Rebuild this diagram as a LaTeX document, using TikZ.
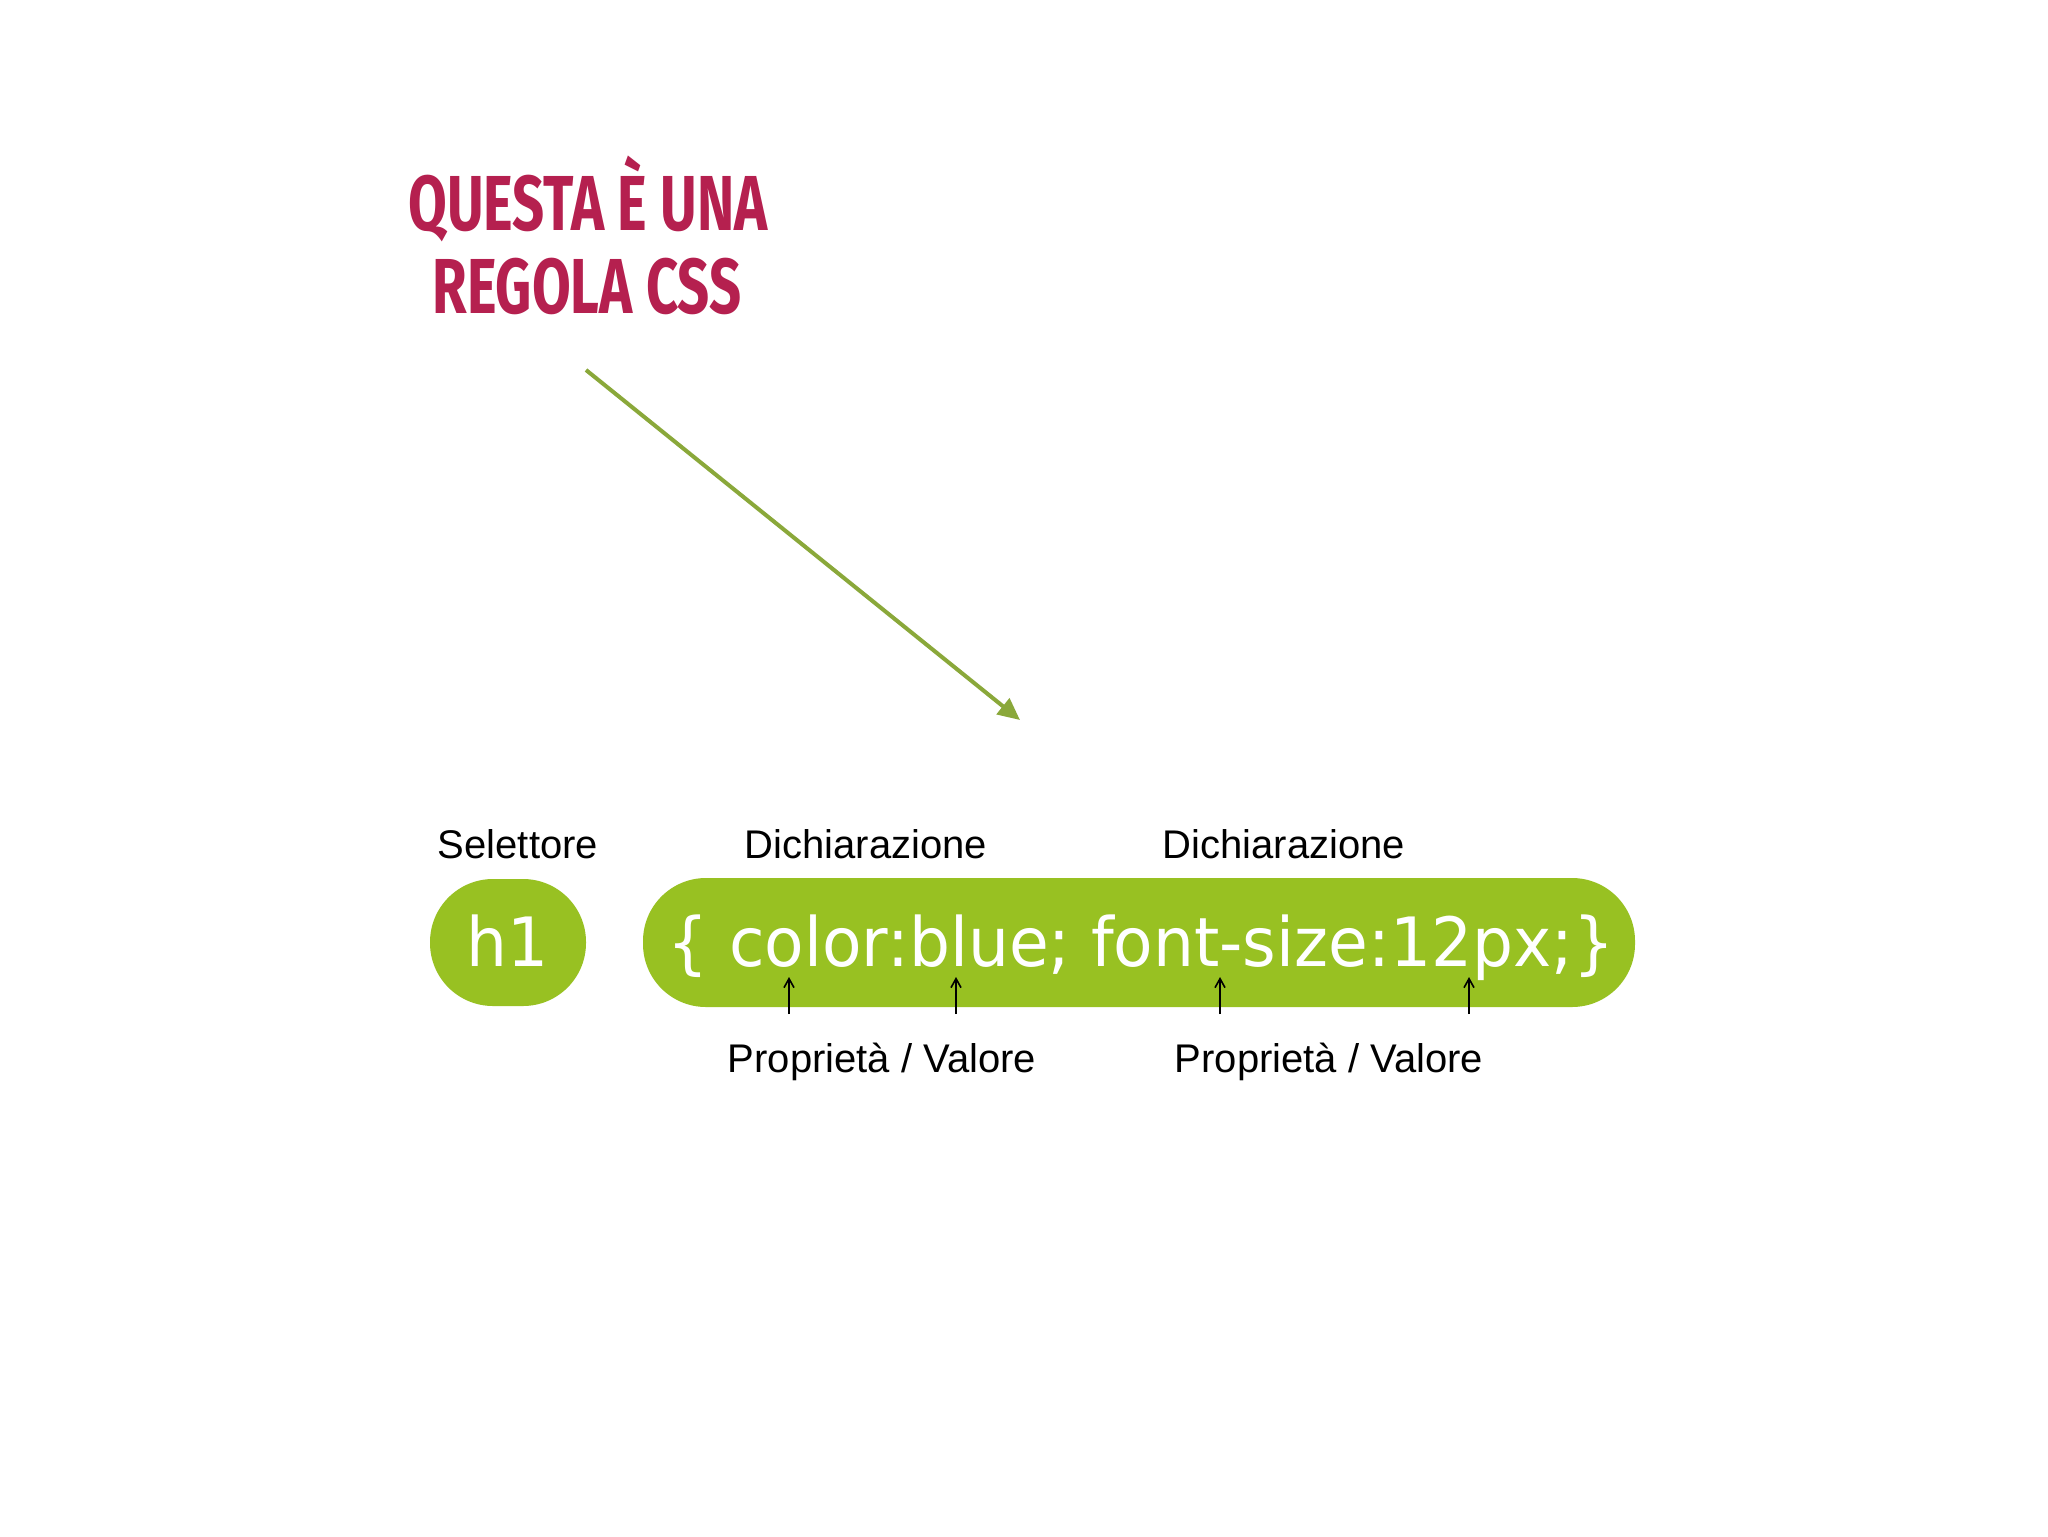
\documentclass[tikz,border=0pt]{standalone}
\usepackage{fontspec}
\setmainfont{Liberation Sans}
\newfontfamily\titlefont[FakeStretch=0.72]{Fira Sans}
\newfontfamily\codefont[FakeStretch=0.95]{DejaVu Sans}
\usetikzlibrary{arrows.meta}
\definecolor{titlered}{HTML}{B5204F}
\definecolor{pillgreen}{HTML}{98C122}
\definecolor{arrowgreen}{HTML}{8AA83A}
\tikzset{
  titletext/.style={font=\titlefont\bfseries\fontsize{39}{39}\selectfont, text=titlered, inner sep=0pt, anchor=base},
  label/.style={font=\fontsize{20}{20}\selectfont, inner sep=0pt, anchor=base},
  pill/.style={fill=pillgreen, draw=none, rounded corners=31.5pt, inner sep=0pt},
  codetext/.style={font=\codefont\fontsize{34}{34}\selectfont, text=white, inner sep=0pt, anchor=base},
  bigarrow/.style={draw=arrowgreen, line width=2pt, -{Triangle[length=11pt,width=10pt]}},
  smallarrow/.style={draw=black, line width=0.8pt, -{Straight Barb[length=4.5pt,width=5pt]}}
}
\begin{document}
\begin{tikzpicture}[x=0.5pt,y=-0.5pt]
\useasboundingbox[fill=white] (0,0) rectangle (2048,1536);
% title
\node[titletext] (t1) at (588,230) {QUESTA È UNA};
\node[titletext] (t2) at (587,313) {REGOLA CSS};
% pills
\node[pill, minimum width=78pt, minimum height=63.5pt] (sel) at (508,942.5) {};
\node[pill, minimum width=496pt, minimum height=64.5pt] (decl) at (1139,942.5) {};
\node[codetext] (h1) at (508,966) {h1};
\node[codetext] (code) at (1141,966) {\{ color:blue; font-size:12px;\}};
% labels
\node[label] (lsel) at (518,858) {Selettore};
\node[label] (ld1) at (866,858) {Dichiarazione};
\node[label] (ld2) at (1284,858) {Dichiarazione};
\node[label] (lp1) at (882,1072) {Proprietà / Valore};
\node[label] (lp2) at (1329,1072) {Proprietà / Valore};
% arrows
\coordinate (a0) at (586,370);
\coordinate (a1) at (1020,720);
\draw[bigarrow] (a0) -- (a1);
\foreach \x [count=\i] in {789,956,1220,1469}{
  \coordinate (s\i) at (\x,1014);
  \coordinate (e\i) at (\x,977);
  \draw[smallarrow] (s\i) -- (e\i);
}
\end{tikzpicture}
\end{document}
